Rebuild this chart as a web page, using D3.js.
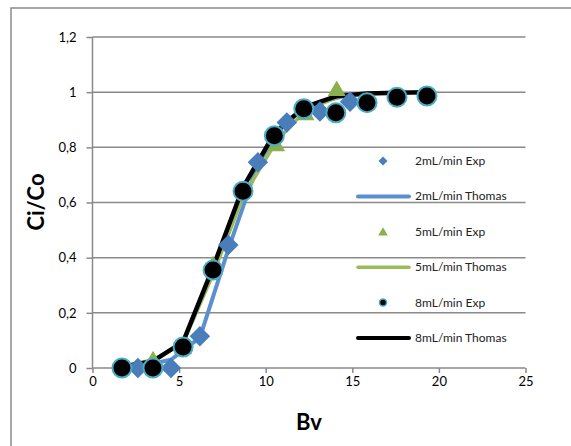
<!DOCTYPE html>
<html>
<head>
<meta charset="utf-8">
<script src="https://cdn.jsdelivr.net/npm/d3@7"></script>
<style>
  body { margin: 0; background: #fff; }
  svg { display: block; font-family: Lato, "Open Sans", sans-serif; }
</style>
</head>
<body>
<div id="chart"></div>
<script>
// experimental points
var bv2Exp = [2.62, 4.53, 6.2, 7.84, 9.55, 11.22, 13.13, 14.87];
var c2Exp = [0.0, 0.0, 0.115, 0.446, 0.746, 0.89, 0.93, 0.965];
var bv5Exp = [1.7, 3.5, 5.23, 6.96, 8.69, 10.6, 12.3, 14.1];
var c5Exp = [0.0, 0.025, 0.07, 0.37, 0.64, 0.805, 0.917, 1.005];
var bv8Exp = [1.7, 3.49, 5.23, 6.96, 8.69, 10.5, 12.2, 14.05, 15.85, 17.58, 19.31];
var c8Exp = [0.0, 0.0, 0.076, 0.355, 0.641, 0.842, 0.94, 0.925, 0.962, 0.982, 0.986];

// Thomas model curves
var bv2Th = [2.62, 4.53, 6.2, 7.84, 9.55, 11.22, 13.13, 14.87];
var c2Th = [0.005, 0.03, 0.11, 0.43, 0.74, 0.9, 0.965, 0.99];
var bv5Th = [1.7, 3.5, 5.23, 6.96, 8.69, 10.6, 12.3, 14.1];
var c5Th = [0.005, 0.03, 0.09, 0.34, 0.62, 0.82, 0.935, 0.98];
var bv8Th = [1.7, 3.49, 5.23, 6.96, 8.69, 10.5, 12.2, 14.05, 15.85, 17.58, 19.31];
var c8Th = [0.005, 0.025, 0.095, 0.365, 0.655, 0.85, 0.945, 0.985, 0.995, 0.998, 1.0];

var xTicks = [0, 5, 10, 15, 20, 25];
var yTicks = [0, 0.2, 0.4, 0.6, 0.8, 1, 1.2];
var legendLabels = ["2mL/min Exp", "2mL/min Thomas", "5mL/min Exp", "5mL/min Thomas", "8mL/min Exp", "8mL/min Thomas"];

var blue = "#4a7ebb", blueLine = "#5b8fcf", green = "#8cb04c", greenLine = "#9bbb59", teal = "#4bacc6";

var width = 571, height = 446;
var svg = d3.select("#chart").append("svg")
  .attr("width", width).attr("height", height);

// chart frame
svg.append("rect")
  .attr("x", 11).attr("y", 8).attr("width", 600).attr("height", 500)
  .attr("fill", "#fff").attr("stroke", "#8a8a8a").attr("stroke-width", 1.5);

var x = d3.scaleLinear().domain([0, 25]).range([92.5, 525.5]);
var y = d3.scaleLinear().domain([0, 1.2]).range([368, 37]);

// gridlines
svg.append("g").selectAll("line")
  .data(yTicks.slice(1))
  .enter().append("line")
  .attr("x1", x(0)).attr("x2", x(25))
  .attr("y1", function (d) { return y(d); })
  .attr("y2", function (d) { return y(d); })
  .attr("stroke", "#8a8a8a").attr("stroke-width", 1.5);

// axes
var fmt = function (d) { return String(d).replace(".", ","); };
var yAxis = d3.axisLeft(y).tickValues(yTicks).tickFormat(fmt).tickSize(6).tickPadding(10);
var xAxis = d3.axisBottom(x).tickValues(xTicks).tickFormat(fmt).tickSize(5).tickPadding(4);

var gy = svg.append("g").attr("transform", "translate(" + x(0) + ",0)").call(yAxis);
var gx = svg.append("g").attr("transform", "translate(0," + y(0) + ")").call(xAxis);
[gx, gy].forEach(function (g) {
  g.select(".domain").attr("stroke", "#8a8a8a").attr("stroke-width", 1.5);
  g.selectAll(".tick line").attr("stroke", "#8a8a8a").attr("stroke-width", 1.5);
  g.selectAll(".tick text").attr("font-size", 13).attr("fill", "#000")
    .attr("font-family", "Lato, 'Open Sans', sans-serif");
});
gx.select(".domain").attr("d", "M" + x(0) + ",0H" + x(25));
gy.select(".domain").attr("d", "M0," + y(1.2) + "V" + y(0));

// axis titles
svg.append("text").attr("x", 309).attr("y", 430).attr("text-anchor", "middle")
  .attr("font-size", 22).attr("font-weight", "bold").text("Bv");
svg.append("text").attr("transform", "translate(44,202) rotate(-90)")
  .attr("text-anchor", "middle").attr("font-size", 22).attr("font-weight", "bold").text("Ci/Co");

// Thomas lines
var line = d3.line().x(function (d) { return x(d[0]); }).y(function (d) { return y(d[1]); });
var lines = [
  { xs: bv2Th, ys: c2Th, color: blueLine, w: 4 },
  { xs: bv5Th, ys: c5Th, color: greenLine, w: 3.5 },
  { xs: bv8Th, ys: c8Th, color: "#000", w: 4.5 }
];
lines.forEach(function (s) {
  svg.append("path")
    .datum(d3.zip(s.xs, s.ys))
    .attr("d", line).attr("fill", "none")
    .attr("stroke", s.color).attr("stroke-width", s.w)
    .attr("stroke-linejoin", "round").attr("stroke-linecap", "round");
});

// markers
svg.append("g").selectAll("path")
  .data(d3.zip(bv2Exp, c2Exp)).enter().append("path")
  .attr("d", d3.symbol(d3.symbolSquare, 210))
  .attr("transform", function (d) { return "translate(" + x(d[0]) + "," + y(d[1]) + ") rotate(45)"; })
  .attr("fill", blue);

svg.append("g").selectAll("path")
  .data(d3.zip(bv5Exp, c5Exp)).enter().append("path")
  .attr("d", d3.symbol(d3.symbolTriangle, 140))
  .attr("transform", function (d) { return "translate(" + x(d[0]) + "," + y(d[1]) + ")"; })
  .attr("fill", green);

svg.append("g").selectAll("circle")
  .data(d3.zip(bv8Exp, c8Exp)).enter().append("circle")
  .attr("cx", function (d) { return x(d[0]); })
  .attr("cy", function (d) { return y(d[1]); })
  .attr("r", 9.5)
  .attr("fill", "#000").attr("stroke", teal).attr("stroke-width", 2);

// legend
var legY = d3.scalePoint().domain(legendLabels).range([161, 338]);
var leg = svg.append("g");
legendLabels.forEach(function (lab, i) {
  var ly = legY(lab);
  if (i === 0) {
    leg.append("path").attr("d", d3.symbol(d3.symbolSquare, 40))
      .attr("transform", "translate(383," + ly + ") rotate(45)").attr("fill", blue);
  } else if (i === 2) {
    leg.append("path").attr("d", d3.symbol(d3.symbolTriangle, 40))
      .attr("transform", "translate(383," + (ly + 1) + ")").attr("fill", green);
  } else if (i === 4) {
    leg.append("circle").attr("cx", 383).attr("cy", ly).attr("r", 3.5)
      .attr("fill", "#000").attr("stroke", teal).attr("stroke-width", 1.5);
  } else {
    var c = i === 1 ? blueLine : (i === 3 ? greenLine : "#000");
    leg.append("line").attr("x1", 358).attr("x2", 409).attr("y1", ly).attr("y2", ly)
      .attr("stroke", c).attr("stroke-width", i === 3 ? 3.5 : 4).attr("stroke-linecap", "round");
  }
  leg.append("text").attr("x", 415).attr("y", ly + 4).attr("font-size", 12)
    .attr("fill", "#222").text(lab);
});
</script>
</body>
</html>
